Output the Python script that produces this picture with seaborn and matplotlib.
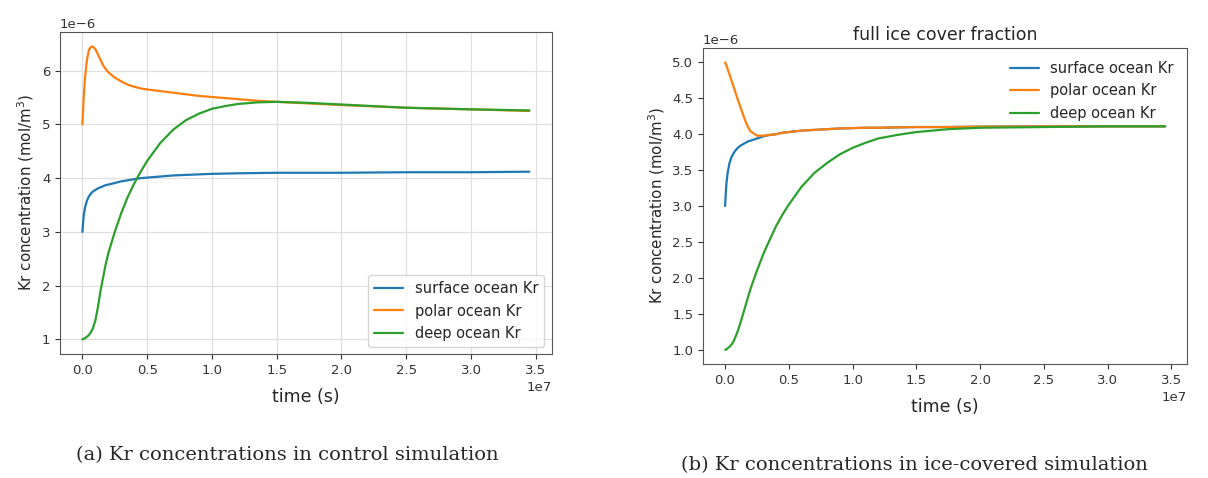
import matplotlib
matplotlib.use("Agg")
import matplotlib.pyplot as plt
import numpy as np
import pandas as pd
import seaborn as sns

# time in units of 1e7 s, concentrations in units of 1e-6 mol/m^3
time_pts = [0, 0.01, 0.02, 0.035, 0.05, 0.065, 0.08, 0.1, 0.12, 0.14, 0.16,
            0.18, 0.2, 0.25, 0.3, 0.35, 0.4, 0.45, 0.5, 0.6, 0.7, 0.8, 0.9,
            1.0, 1.1, 1.2, 1.35, 1.5, 1.75, 2.0, 2.5, 3.0, 3.45]

# (a) control simulation
ctrl_surface = [3.0, 3.3, 3.45, 3.58, 3.66, 3.71, 3.75, 3.78, 3.81, 3.83, 3.85,
                3.87, 3.88, 3.91, 3.94, 3.96, 3.98, 4.0, 4.01, 4.03, 4.05, 4.06, 4.07,
                4.08, 4.085, 4.09, 4.095, 4.1, 4.1, 4.1, 4.11, 4.11, 4.12]
ctrl_polar = [5.0, 5.5, 5.85, 6.2, 6.38, 6.44, 6.45, 6.4, 6.3, 6.2, 6.1,
              6.03, 5.97, 5.87, 5.8, 5.74, 5.7, 5.67, 5.65, 5.62, 5.59, 5.56, 5.53,
              5.51, 5.49, 5.47, 5.44, 5.42, 5.39, 5.36, 5.31, 5.28, 5.25]
ctrl_deep = [1.0, 1.01, 1.02, 1.05, 1.08, 1.13, 1.2, 1.35, 1.6, 1.9, 2.15,
             2.4, 2.6, 3.0, 3.35, 3.65, 3.9, 4.12, 4.32, 4.65, 4.9, 5.08, 5.2,
             5.29, 5.34, 5.38, 5.41, 5.42, 5.4, 5.37, 5.31, 5.28, 5.26]

# (b) ice-covered simulation
ice_surface = [3.0, 3.3, 3.46, 3.6, 3.68, 3.73, 3.77, 3.81, 3.84, 3.86, 3.88,
               3.9, 3.91, 3.94, 3.97, 3.99, 4.0, 4.02, 4.03, 4.05, 4.06, 4.07, 4.08,
               4.085, 4.09, 4.09, 4.095, 4.1, 4.1, 4.105, 4.11, 4.11, 4.11]
ice_polar = [5.0, 4.96, 4.91, 4.83, 4.75, 4.67, 4.59, 4.48, 4.38, 4.28, 4.18,
             4.1, 4.04, 3.98, 3.98, 3.99, 4.0, 4.02, 4.03, 4.05, 4.06, 4.07, 4.08,
             4.085, 4.09, 4.09, 4.095, 4.1, 4.1, 4.105, 4.11, 4.11, 4.11]
ice_deep = [1.0, 1.0, 1.02, 1.04, 1.07, 1.11, 1.17, 1.26, 1.37, 1.49, 1.61,
            1.73, 1.85, 2.1, 2.33, 2.53, 2.72, 2.88, 3.02, 3.27, 3.46, 3.6, 3.72,
            3.81, 3.88, 3.94, 3.99, 4.03, 4.07, 4.09, 4.1, 4.11, 4.11]

series_names = ["surface ocean Kr", "polar ocean Kr", "deep ocean Kr"]
colors = ["#1f77b4", "#ff7f0e", "#2ca02c"]
x_ticks = [0, 0.5, 1.0, 1.5, 2.0, 2.5, 3.0, 3.5]


def to_long(surface, polar, deep):
    frames = []
    for name, vals in zip(series_names, [surface, polar, deep]):
        frames.append(pd.DataFrame({
            "time": np.array(time_pts) * 1e7,
            "conc": np.array(vals) * 1e-6,
            "series": name,
        }))
    return pd.concat(frames, ignore_index=True)


sns.set_style("ticks")
plt.rcParams['font.family'] = ['DejaVu Sans']

fig = plt.figure(figsize=(12.08, 4.78), dpi=100)
ax1 = fig.add_axes([0.0497, 0.2594, 0.407, 0.674])
ax2 = fig.add_axes([0.582, 0.2385, 0.4007, 0.661])

df_a = to_long(ctrl_surface, ctrl_polar, ctrl_deep)
df_b = to_long(ice_surface, ice_polar, ice_deep)

for ax, df in [(ax1, df_a), (ax2, df_b)]:
    sns.lineplot(data=df, x="time", y="conc", hue="series", palette=colors,
                 hue_order=series_names, linewidth=1.6, ax=ax)
    ax.set_xticks(np.array(x_ticks) * 1e7)
    ax.set_xlabel("time (s)", fontsize=12.5, labelpad=8)
    ax.set_ylabel("Kr concentration (mol/m$^3$)", fontsize=10.8)
    ax.tick_params(labelsize=9.5, direction="out", colors="#333333")
    ax.xaxis.get_offset_text().set_fontsize(9.5)
    ax.yaxis.get_offset_text().set_fontsize(9.5)
    for sp in ax.spines.values():
        sp.set_visible(True)
        sp.set_color("#555555")

ax1.grid(True, color="#e0e0e0", linewidth=0.9)
ax1.legend(loc="lower right", fontsize=10.5, frameon=True)
ax2.legend(loc="upper right", fontsize=10.5, frameon=False)
ax2.set_title("full ice cover fraction", fontsize=12.5)

fig.text(0.238, 0.048, "(a) Kr concentrations in control simulation",
         ha="center", va="center", fontsize=14, family="DejaVu Serif")
fig.text(0.757, 0.027, "(b) Kr concentrations in ice-covered simulation",
         ha="center", va="center", fontsize=14, family="DejaVu Serif")

fig.savefig("out.png", dpi=100)
